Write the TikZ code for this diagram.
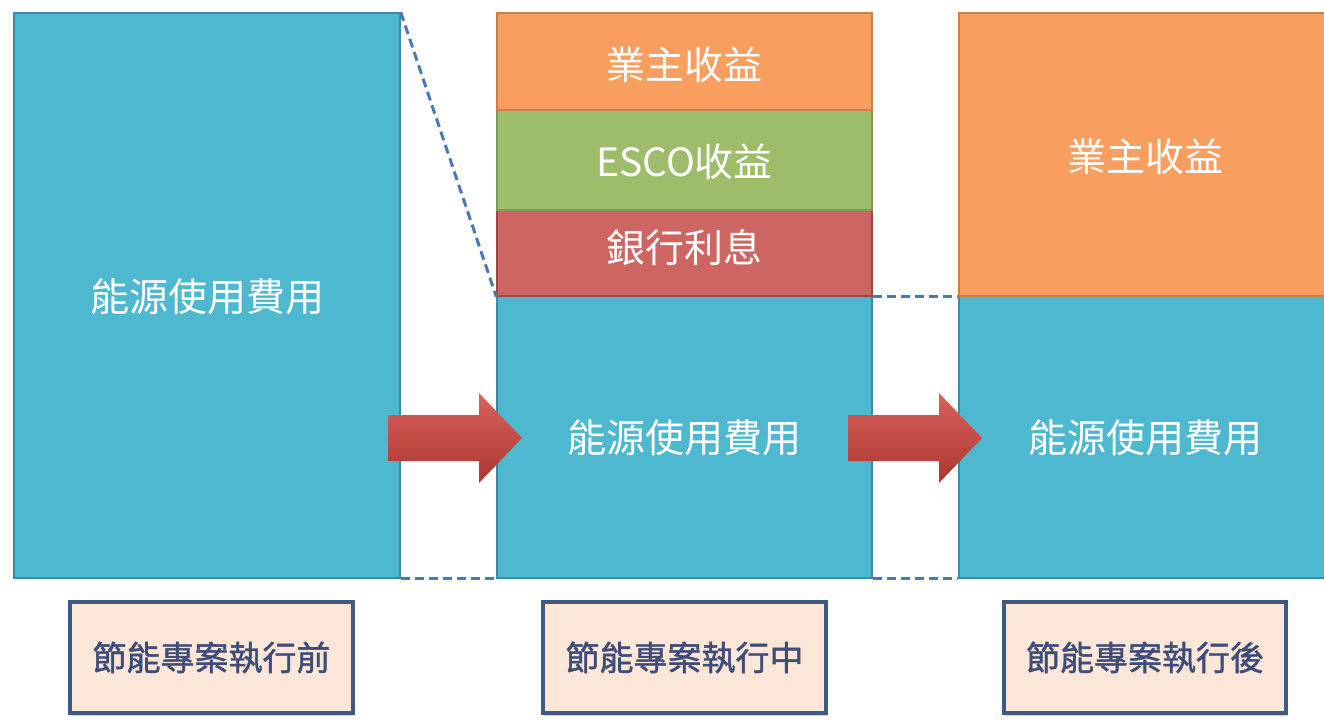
\documentclass[tikz,border=0pt]{standalone}
\usepackage{fontspec}
\newfontfamily\cjk{Noto Sans CJK TC}
\newfontfamily\cjkm[FakeBold=1.3]{Noto Sans CJK TC}
\usetikzlibrary{shadows}
\definecolor{cyanfill}{HTML}{4DB8CF}
\definecolor{cyanline}{HTML}{3A8CA6}
\definecolor{orgfill}{HTML}{F89E5E}
\definecolor{orgline}{HTML}{C9824E}
\definecolor{grnfill}{HTML}{9DBD6B}
\definecolor{grnline}{HTML}{7F9A55}
\definecolor{redfill}{HTML}{CD6563}
\definecolor{redline}{HTML}{9E4644}
\definecolor{dashcol}{HTML}{4A78B4}
\definecolor{lblfill}{HTML}{FBE6D8}
\definecolor{lblline}{HTML}{3D5A82}
\definecolor{lbltext}{HTML}{3E4C78}
\definecolor{arrtop}{HTML}{DA635C}
\definecolor{arrbot}{HTML}{A9362F}
\tikzset{
  blk/.style={draw, line width=1.5pt, inner sep=0pt},
  cyanblk/.style={blk, fill=cyanfill, draw=cyanline},
  orgblk/.style={blk, fill=orgfill, draw=orgline},
  grnblk/.style={blk, fill=grnfill, draw=grnline},
  redblk/.style={blk, fill=redfill, draw=redline},
  wtxt/.style={font=\cjk\fontsize{39}{44}\selectfont, text=white},
  dashln/.style={draw=dashcol, line width=3pt, dash pattern=on 9pt off 5pt},
  lblbox/.style={draw=lblline, fill=lblfill, line width=4.5pt, inner sep=0pt, font=\cjkm\fontsize{34}{40}\selectfont, text=lbltext, drop shadow={shadow xshift=1pt, shadow yshift=-3pt, opacity=0.35}},
  bigarrow/.style={top color=arrtop, bottom color=arrbot, draw=none}
}
\begin{document}
\begin{tikzpicture}[x=1pt,y=-1pt]
\useasboundingbox (0,0) rectangle (1324,723);
\fill[white] (0,0) rectangle (1324,723);
% left column
\node[cyanblk, minimum width=386pt, minimum height=565pt] (L) at (207,295.5) {};
\node[wtxt] (Lt) at (207,297) {能源使用費用};
% middle column
\node[cyanblk, minimum width=375pt, minimum height=282pt] (Mc) at (684.5,437) {};
\node[redblk, minimum width=375pt, minimum height=86pt] (Mr) at (684.5,253) {};
\node[grnblk, minimum width=375pt, minimum height=100pt] (Mg) at (684.5,160) {};
\node[orgblk, minimum width=375pt, minimum height=97pt] (Mo) at (684.5,61.5) {};
\node[wtxt] at (684.5,438) {能源使用費用};
\node[wtxt] at (684.5,248) {銀行利息};
\node[wtxt] at (684.5,162) {ESCO收益};
\node[wtxt] at (684.5,65) {業主收益};
% right column
\node[cyanblk, minimum width=370pt, minimum height=282pt, anchor=west] (Rc) at (958,437) {};
\node[orgblk, minimum width=370pt, minimum height=283pt, anchor=west] (Ro) at (958,154.5) {};
\node[wtxt] at (1145,438) {能源使用費用};
\node[wtxt] at (1145,157) {業主收益};
% dashed connectors
\draw[dashln] (L.north east) -- (Mr.south west);
\draw[dashln] (L.south east) -- (Mc.south west);
\draw[dashln] (Mr.south east) -- (Ro.south west);
\draw[dashln] (Mc.south east) -- (Rc.south west);
% arrows
\coordinate (A1) at (388,438);
\coordinate (A2) at (848,438);
\foreach \c in {A1,A2}{
  \path[bigarrow] ([yshift=23pt]\c) -- ++(91,0) -- ++(0,-22) -- ++(43,45) -- ++(-43,45) -- ++(0,-22) -- ++(-91,0) -- cycle;
}
% labels
\node[lblbox, minimum width=283pt, minimum height=111pt] (B1) at (211.5,657.5) {節能專案執行前};
\node[lblbox, minimum width=283pt, minimum height=111pt] (B2) at (684.5,657.5) {節能專案執行中};
\node[lblbox, minimum width=282pt, minimum height=111pt] (B3) at (1145,657.5) {節能專案執行後};
\end{tikzpicture}
\end{document}
